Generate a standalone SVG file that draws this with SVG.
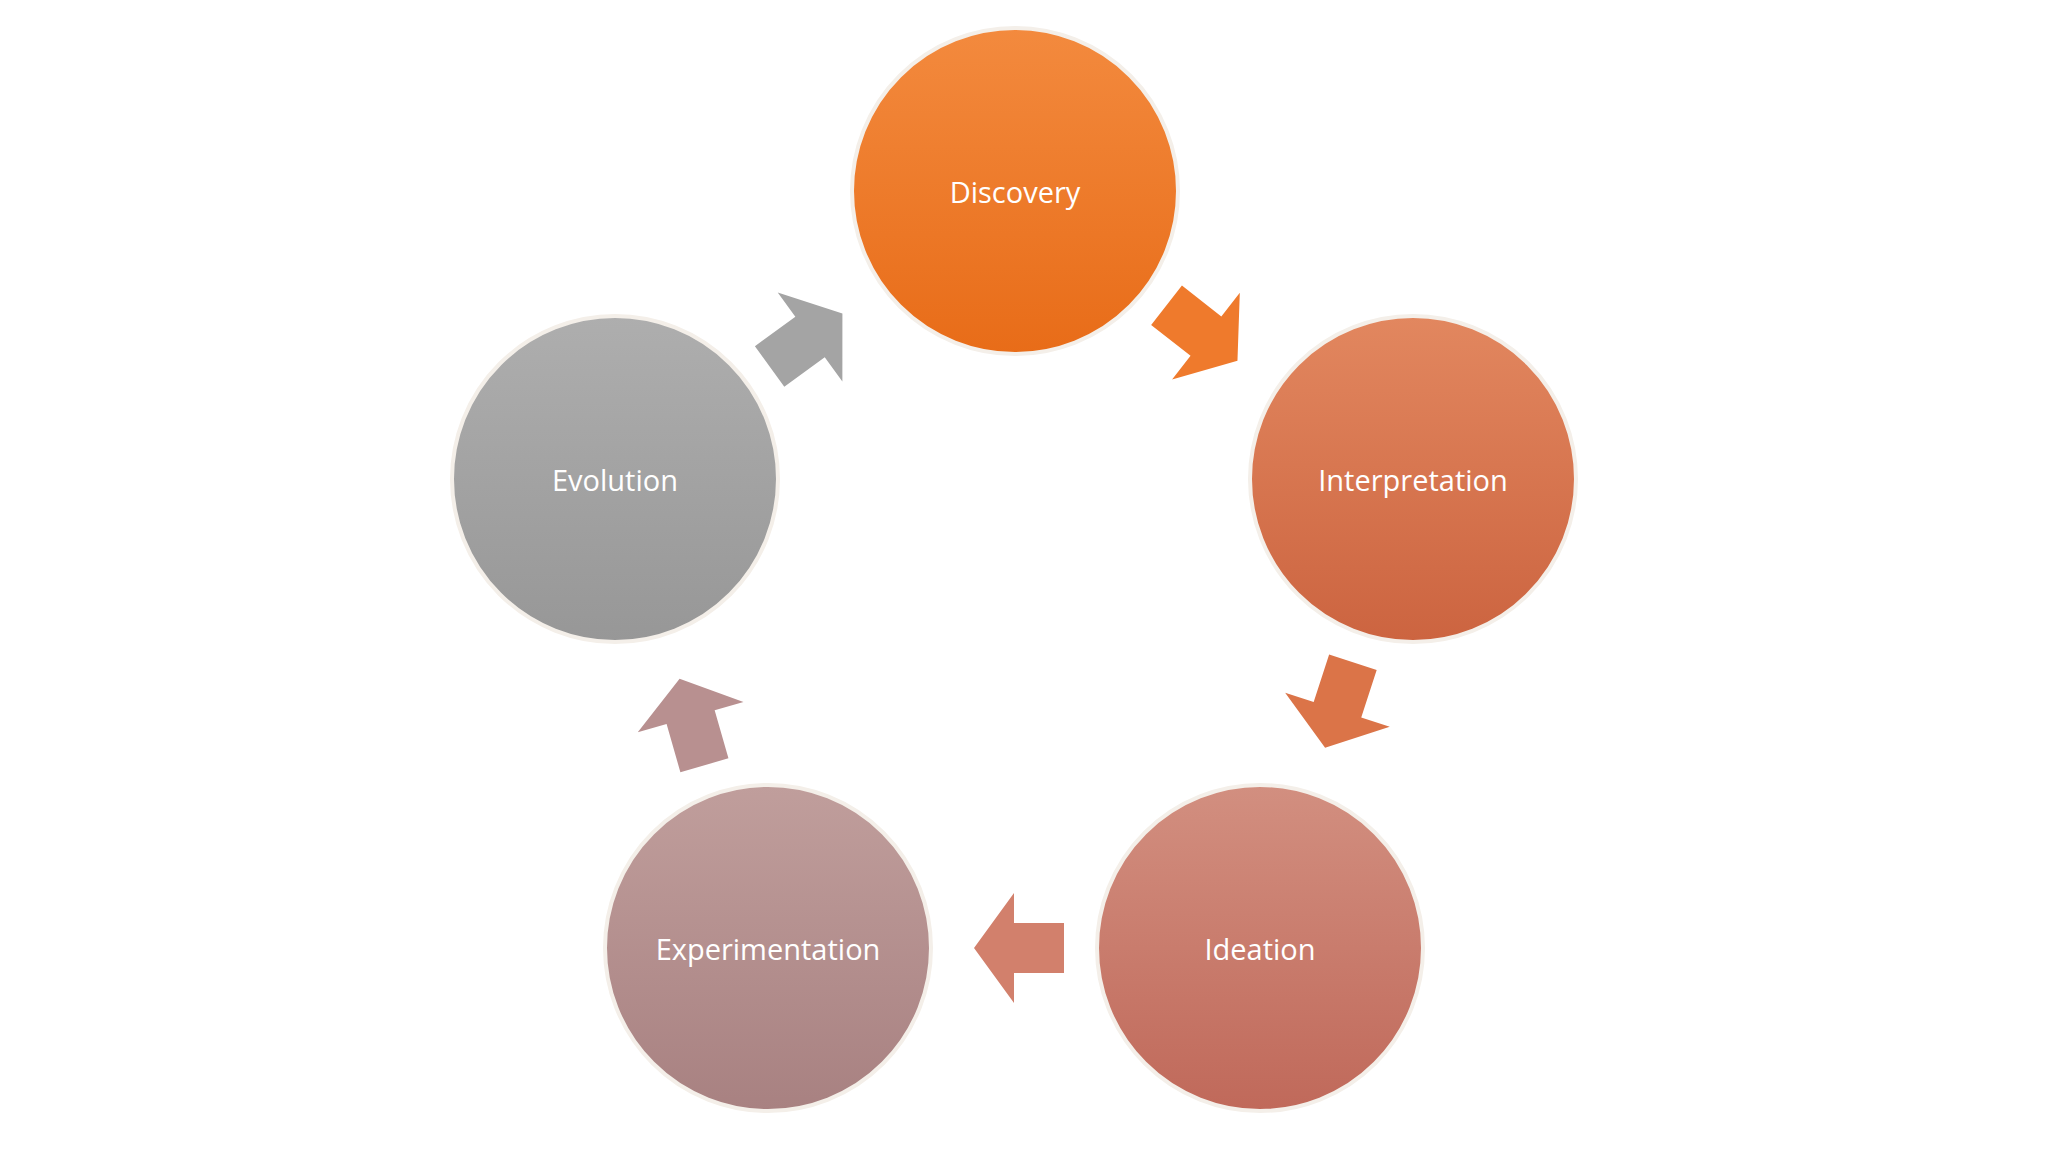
<svg xmlns="http://www.w3.org/2000/svg" width="2048" height="1152" viewBox="0 0 2048 1152">
<defs>
<linearGradient id="g1" x1="0" y1="0" x2="0" y2="1"><stop offset="0" stop-color="#F38A3E"/><stop offset="1" stop-color="#E86C18"/></linearGradient>
<linearGradient id="g2" x1="0" y1="0" x2="0" y2="1"><stop offset="0" stop-color="#E2875F"/><stop offset="1" stop-color="#CC6440"/></linearGradient>
<linearGradient id="g3" x1="0" y1="0" x2="0" y2="1"><stop offset="0" stop-color="#D28F80"/><stop offset="1" stop-color="#C0695A"/></linearGradient>
<linearGradient id="g4" x1="0" y1="0" x2="0" y2="1"><stop offset="0" stop-color="#C09E9C"/><stop offset="1" stop-color="#A88181"/></linearGradient>
<linearGradient id="g5" x1="0" y1="0" x2="0" y2="1"><stop offset="0" stop-color="#AEAEAE"/><stop offset="1" stop-color="#979797"/></linearGradient>
<path id="arr" d="M-45,-25 L5,-25 L5,-55 L45,0 L5,55 L5,25 L-45,25 Z"/>
</defs>
<style>
.c{stroke:#f4efe9;stroke-width:4}
.t{font-family:"Open Sans","Liberation Sans",sans-serif;font-size:29px;fill:#fff;text-anchor:middle;dominant-baseline:central}
</style>
<rect width="2048" height="1152" fill="#fff"/>
<g id="connectors">
<use href="#arr" fill="#EF7A2C" transform="translate(1202,333) rotate(38)"/>
<use href="#arr" fill="#DB7448" transform="translate(1339,705) rotate(108)"/>
<use href="#arr" fill="#D2806C" transform="translate(1019,948) rotate(180)"/>
<use href="#arr" fill="#B89090" transform="translate(692,722) rotate(-106)"/>
<use href="#arr" fill="#A4A4A4" transform="translate(806,340) rotate(-36)"/>
</g>
<g id="discovery"><circle class="c" cx="1015" cy="191" r="163" fill="url(#g1)"/><text class="t" x="1015" y="191">Discovery</text></g>
<g id="interpretation"><circle class="c" cx="1413" cy="479" r="163" fill="url(#g2)"/><text class="t" x="1413" y="479">Interpretation</text></g>
<g id="ideation"><circle class="c" cx="1260" cy="948" r="163" fill="url(#g3)"/><text class="t" x="1260" y="948">Ideation</text></g>
<g id="experimentation"><circle class="c" cx="768" cy="948" r="163" fill="url(#g4)"/><text class="t" x="768" y="948">Experimentation</text></g>
<g id="evolution"><circle class="c" cx="615" cy="479" r="163" fill="url(#g5)"/><text class="t" x="615" y="479">Evolution</text></g>
</svg>
